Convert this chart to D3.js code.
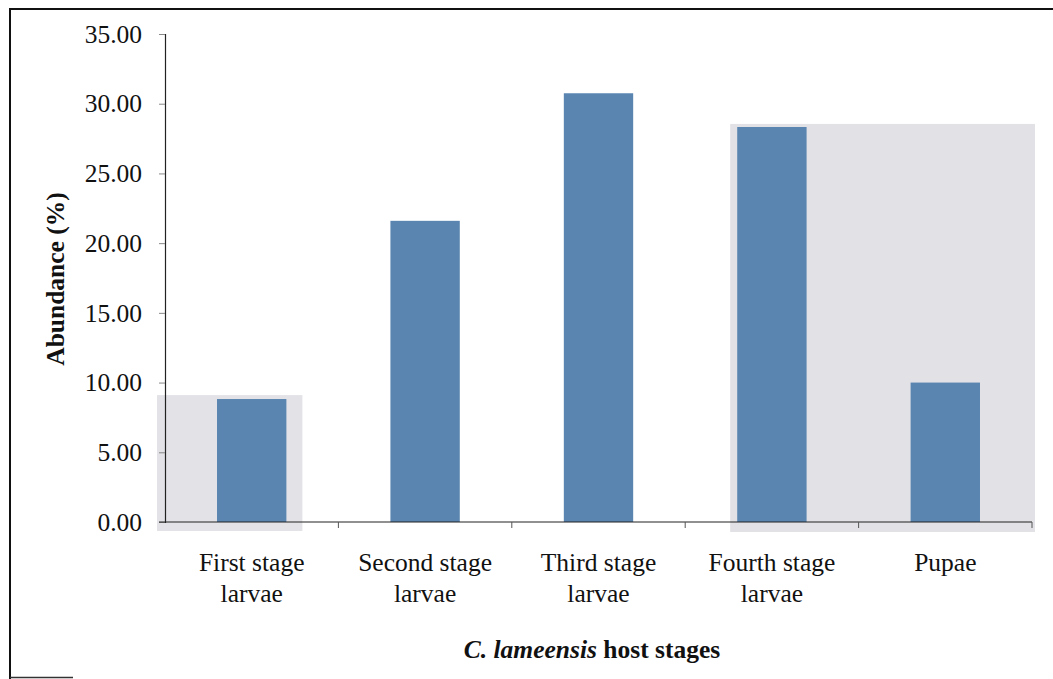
<!DOCTYPE html>
<html>
<head>
<meta charset="utf-8">
<script src="https://cdn.jsdelivr.net/npm/d3@7"></script>
<style>
  body { margin: 0; background: #fff; }
  svg { display: block; }
</style>
</head>
<body>
<div id="chart"></div>
<script>
// data
const stages = ["First stage larvae", "Second stage larvae", "Third stage larvae", "Fourth stage larvae", "Pupae"];
const stageLines = [["First stage", "larvae"], ["Second stage", "larvae"], ["Third stage", "larvae"], ["Fourth stage", "larvae"], ["Pupae"]];
const abundance = [8.82, 21.60, 30.75, 28.33, 10.00];
const yTicks = [0, 5, 10, 15, 20, 25, 30, 35];

const width = 1053;
const height = 679;
const margin = { top: 34, right: 21, bottom: 157, left: 165 };

const svg = d3.select("#chart")
  .append("svg")
  .attr("width", width)
  .attr("height", height);

const font = "'Liberation Serif', 'Times New Roman', serif";
const fontSize = "25.5px";

const x = d3.scaleBand()
  .domain(stages)
  .range([margin.left, width - margin.right])
  .paddingInner(0.6)
  .paddingOuter(0.3);

const y = d3.scaleLinear()
  .domain([0, 35])
  .range([height - margin.bottom, margin.top]);

// frame (left + top, short stroke at the bottom)
svg.append("path")
  .attr("d", "M10,679 L10,9 L1053,9")
  .attr("fill", "none")
  .attr("stroke", "#111")
  .attr("stroke-width", 2);
svg.append("line")
  .attr("x1", 10).attr("x2", 73)
  .attr("y1", 677.5).attr("y2", 677.5)
  .attr("stroke", "#333")
  .attr("stroke-width", 1.5);

// grey patches behind some bars (scan artefacts)
const step = x.step();
svg.append("rect")
  .attr("x", x.range()[0] - 8)
  .attr("y", y(9.1))
  .attr("width", x(stages[0]) + x.bandwidth() + 16 - (x.range()[0] - 8))
  .attr("height", y(0) + 9 - y(9.1))
  .attr("fill", "#e2e2e7");
svg.append("rect")
  .attr("x", x(stages[3]) - 7)
  .attr("y", y(28.55))
  .attr("width", x.range()[1] + 3 - (x(stages[3]) - 7))
  .attr("height", y(0) + 10 - y(28.55))
  .attr("fill", "#e1e1e6");

// bars
svg.selectAll(".bar")
  .data(abundance)
  .enter()
  .append("rect")
  .attr("class", "bar")
  .attr("x", (d, i) => x(stages[i]))
  .attr("y", d => y(d))
  .attr("width", x.bandwidth())
  .attr("height", d => y(0) - y(d))
  .attr("fill", "#5985b0");

// y axis
const yAxis = svg.append("g")
  .attr("transform", `translate(${margin.left},0)`)
  .call(d3.axisLeft(y).tickValues(yTicks).tickFormat(d3.format(".2f")).tickSize(6).tickPadding(17));
yAxis.select(".domain").attr("stroke", "#222").attr("stroke-width", 1.2);
yAxis.selectAll(".tick line").attr("stroke", "#888");
yAxis.selectAll("text")
  .style("font-family", font)
  .style("font-size", fontSize)
  .attr("fill", "#111");

// x axis
const xAxisG = svg.append("g")
  .attr("transform", `translate(0,${y(0)})`);
xAxisG.append("line")
  .attr("x1", x.range()[0] - 6).attr("x2", x.range()[1])
  .attr("stroke", "#222")
  .attr("stroke-width", 1.2);
const bounds = d3.range(stages.length + 1).map(i => x.range()[0] + i * step);
xAxisG.selectAll(".xtick")
  .data(bounds.slice(1))
  .enter()
  .append("line")
  .attr("x1", d => d).attr("x2", d => d)
  .attr("y1", 0).attr("y2", 6)
  .attr("stroke", "#555");

// category labels
const labels = svg.selectAll(".cat")
  .data(stages)
  .enter()
  .append("text")
  .attr("class", "cat")
  .attr("text-anchor", "middle")
  .style("font-family", font)
  .style("font-size", fontSize)
  .attr("fill", "#111");
labels.each(function (d, i) {
  const cx = x(d) + x.bandwidth() / 2;
  stageLines[i].forEach((line, j) => {
    d3.select(this).append("tspan")
      .attr("x", cx)
      .attr("y", 571 + j * 31)
      .text(line);
  });
});

// axis titles
const xTitle = svg.append("text")
  .attr("x", 592)
  .attr("y", 658)
  .attr("text-anchor", "middle")
  .style("font-family", font)
  .style("font-size", fontSize)
  .style("font-weight", "bold")
  .attr("fill", "#111");
xTitle.append("tspan").style("font-style", "italic").text("C. lameensis");
xTitle.append("tspan").text(" host stages");

svg.append("text")
  .attr("transform", "translate(64,279) rotate(-90)")
  .attr("text-anchor", "middle")
  .style("font-family", font)
  .style("font-size", fontSize)
  .style("font-weight", "bold")
  .attr("fill", "#111")
  .text("Abundance (%)");
</script>
</body>
</html>
